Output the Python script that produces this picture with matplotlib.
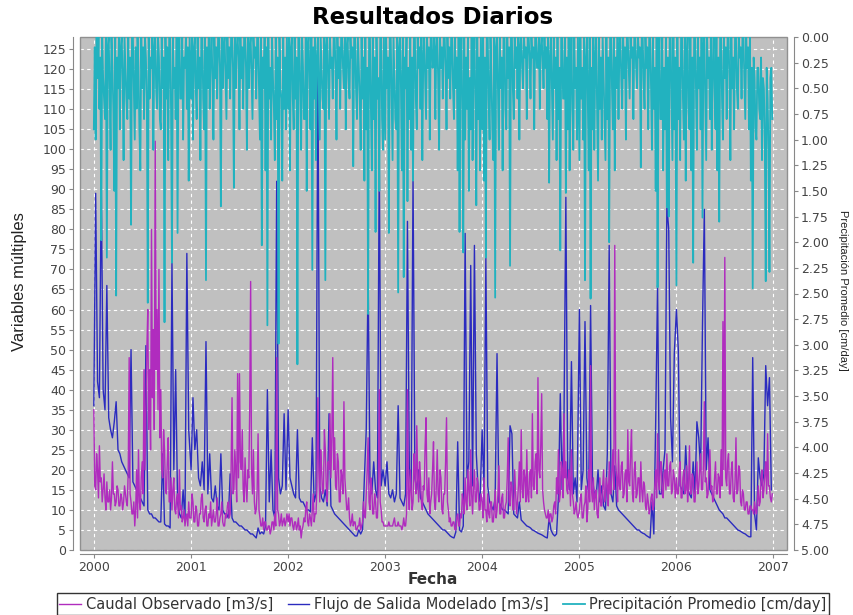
import numpy as np
import pandas as pd
import matplotlib
matplotlib.use("Agg")
import matplotlib.pyplot as plt
import matplotlib.dates as mdates
from matplotlib.ticker import MultipleLocator, FormatStrFormatter
from matplotlib.patches import Rectangle

years = [2000, 2001, 2002, 2003, 2004, 2005, 2006]

# Caudal Observado [m3/s], two readings per week (104 per year)
obs_2000 = [35, 16, 15, 24, 20, 13, 26, 17, 18, 12, 15, 19, 13, 10, 17, 12, 12, 15, 10, 13, 22, 14, 14, 11, 12, 16,
            15, 11, 11, 14, 13, 10, 12, 16, 14, 12, 11, 20, 48, 14, 12, 9, 9, 12, 6, 10, 20, 8, 25, 12, 10, 18,
            22, 14, 45, 20, 35, 50, 60, 30, 45, 25, 80, 38, 55, 30, 102, 45, 60, 35, 70, 28, 40, 20, 18, 30, 25, 15,
            14, 22, 28, 12, 12, 18, 10, 15, 18, 10, 9, 13, 14, 8, 20, 10, 11, 7, 8, 10, 6, 8, 9, 6, 12, 8]
obs_2001 = [8, 14, 12, 7, 7, 11, 10, 6, 6, 9, 9, 13, 14, 8, 7, 10, 11, 6, 6, 9, 8, 12, 6, 8, 10, 7,
            7, 9, 13, 6, 6, 8, 9, 12, 7, 6, 6, 9, 8, 11, 12, 8, 9, 20, 38, 14, 15, 25, 20, 12, 44, 18,
            44, 22, 20, 30, 15, 12, 23, 16, 12, 20, 18, 35, 67, 20, 14, 25, 12, 9, 10, 15, 29, 10, 8, 6, 6, 8,
            5, 7, 7, 5, 5, 6, 6, 4, 5, 7, 7, 5, 9, 6, 48, 10, 9, 6, 7, 9, 6, 7, 8, 6, 7, 9]
obs_2002 = [7, 9, 6, 8, 8, 6, 5, 7, 7, 5, 6, 8, 5, 6, 3, 5, 6, 8, 7, 10, 12, 7, 6, 9, 8, 6,
            10, 14, 7, 9, 9, 16, 38, 20, 12, 25, 20, 14, 15, 30, 25, 16, 12, 22, 20, 34, 18, 28, 48, 20, 28, 16,
            15, 24, 22, 12, 12, 20, 18, 14, 37, 18, 14, 10, 10, 13, 8, 6, 7, 9, 6, 7, 7, 5, 5, 6, 6, 8,
            5, 6, 7, 12, 9, 8, 14, 20, 28, 12, 10, 18, 15, 9, 9, 14, 12, 8, 8, 16, 40, 12, 10, 7, 7, 6]
obs_2003 = [6, 6, 6, 6, 7, 6, 6, 6, 6, 7, 8, 6, 6, 6, 7, 6, 6, 6, 5, 6, 8, 6, 6, 9, 40, 14,
            10, 20, 15, 10, 12, 24, 20, 14, 31, 18, 12, 22, 18, 12, 10, 16, 15, 26, 33, 14, 12, 18, 9, 12, 14, 20,
            27, 12, 10, 16, 25, 14, 12, 20, 18, 10, 9, 14, 14, 22, 33, 12, 10, 7, 8, 6, 6, 7, 7, 5, 5, 8,
            9, 6, 6, 9, 8, 14, 12, 9, 18, 12, 10, 20, 15, 11, 25, 14, 9, 16, 20, 12, 12, 18, 16, 10, 10, 14]
obs_2004 = [12, 8, 18, 10, 10, 7, 14, 9, 8, 12, 12, 7, 7, 10, 15, 8, 10, 14, 21, 9, 9, 13, 14, 8, 8, 11,
            12, 18, 28, 12, 11, 17, 16, 10, 10, 20, 14, 9, 12, 16, 22, 12, 30, 15, 13, 20, 18, 12, 25, 14, 12, 19,
            20, 13, 34, 16, 15, 22, 24, 14, 43, 20, 18, 26, 39, 15, 12, 10, 9, 8, 8, 10, 7, 9, 9, 7, 8, 11,
            12, 9, 18, 14, 25, 12, 14, 22, 20, 13, 34, 18, 22, 15, 14, 20, 18, 11, 25, 14, 12, 9, 10, 12, 9, 8]
obs_2005 = [10, 13, 14, 8, 8, 11, 12, 16, 7, 10, 20, 12, 46, 15, 12, 18, 10, 14, 15, 9, 8, 13, 18, 11, 11, 16,
            20, 12, 13, 18, 16, 11, 22, 14, 14, 20, 25, 15, 76, 22, 18, 12, 25, 16, 15, 21, 22, 13, 14, 19, 20, 12,
            30, 17, 16, 24, 30, 14, 12, 20, 22, 13, 14, 18, 18, 12, 22, 15, 12, 17, 16, 11, 10, 14, 12, 9, 10, 13,
            14, 10, 11, 16, 20, 13, 29, 17, 15, 22, 22, 14, 13, 19, 20, 15, 24, 16, 16, 21, 22, 14, 15, 20, 18, 13]
obs_2006 = [18, 14, 14, 20, 22, 13, 13, 18, 20, 14, 15, 21, 12, 16, 26, 14, 14, 19, 18, 12, 12, 17, 22, 14, 16, 20,
            24, 15, 15, 21, 37, 17, 18, 13, 14, 20, 25, 15, 16, 12, 13, 18, 22, 14, 14, 19, 18, 13, 25, 16, 57, 20,
            73, 18, 16, 22, 24, 14, 14, 20, 22, 13, 12, 17, 28, 14, 15, 21, 20, 12, 11, 15, 14, 10, 10, 12, 12, 9,
            9, 11, 11, 10, 10, 9, 12, 10, 9, 12, 16, 11, 12, 18, 20, 13, 15, 19, 22, 14, 29, 16, 16, 13, 12, 14]

# Flujo de Salida Modelado [m3/s], weekly (52 per year)
mod_2000 = [36, 89, 42, 38, 92, 40, 35, 66, 33, 30, 28, 32, 37,
            25, 24, 22, 21, 20, 19, 18, 50, 17, 16, 15, 14, 13,
            12, 11, 51, 10, 9, 9, 8, 8, 7.5, 7, 7, 24, 6.5,
            6, 6, 5.5, 72, 20, 45, 12, 9, 8, 15, 7, 74, 30]
mod_2001 = [20, 38, 25, 30, 18, 16, 22, 15, 52, 14, 24, 13, 12,
            16, 11, 10, 24, 10, 9, 9, 8, 19, 8, 7, 7, 6.5,
            6, 6, 5.5, 5, 5, 4.5, 4, 4, 3.5, 3, 5.5, 4, 4.5,
            4, 6, 40, 12, 25, 10, 8, 92, 18, 14, 16, 34, 15]
mod_2002 = [35, 18, 16, 14, 13, 30, 13, 12, 12, 11, 10, 10, 9.5,
            28, 12, 14, 122, 16, 13, 12, 15, 11, 34, 11, 10, 9,
            8.5, 8, 7.5, 7, 6.5, 6, 5.5, 5, 4.5, 4, 3.5, 3.5, 5,
            4, 5, 18, 30, 69, 17, 14, 22, 15, 13, 99, 16, 20]
mod_2003 = [16, 22, 14, 13, 15, 12, 14, 36, 13, 12, 11, 14, 82,
            20, 15, 93, 18, 15, 20, 13, 12, 11, 10, 9, 8.5, 8,
            7.5, 7, 6.5, 6, 5.5, 5, 5, 4.5, 4, 3.5, 3.2, 3, 4.5,
            27, 5, 4.5, 6, 79, 18, 22, 71, 16, 76, 24, 15, 12]
mod_2004 = [30, 14, 73, 16, 12, 11, 10, 13, 49, 12, 11, 10, 10,
            9.5, 9, 31, 29, 9, 8.5, 8, 12, 7.5, 7, 6.5, 6, 5.8,
            5.5, 5, 4.8, 4.5, 4.2, 4, 3.8, 3.5, 3.2, 3, 8, 5, 4,
            3.5, 4, 13, 39, 15, 33, 88, 18, 15, 47, 14, 18, 12]
mod_2005 = [60, 15, 20, 57, 18, 14, 61, 18, 14, 13, 20, 12, 16,
            11, 10, 24, 76, 14, 12, 21, 11, 10, 9.5, 9, 8.5, 8,
            7.5, 7, 6.5, 6, 5.5, 5, 5, 4.5, 4.2, 4, 3.6, 3.3, 3,
            12, 4, 32, 66, 14, 14, 20, 25, 86, 80, 33, 22, 49]
mod_2006 = [60, 50, 16, 15, 14, 26, 15, 14, 13, 22, 14, 32, 28,
            20, 56, 85, 20, 28, 15, 14, 13, 12, 11, 10, 9.5, 9,
            8, 8, 7.5, 7, 6.5, 6, 5.5, 5, 4.8, 4.5, 4.2, 4, 3.6,
            3.3, 3.3, 48, 9, 5, 23, 18, 16, 19, 46, 36, 43, 15]

# Precipitación Promedio [cm/day], two readings per week (104 per year)
pre_2000 = [0.9, 0.1, 1.0, 0.0, 0.4, 0.0, 0.7, 0.2, 1.98, 0.0, 0.4, 0.6, 0.8, 0.0, 2.15, 0.1, 0.0, 0.5, 1.1, 0.0,
            0.3, 0.7, 1.5, 0.0, 2.52, 0.2, 0.5, 0.0, 0.9, 0.1, 0.0, 0.4, 1.2, 0.0, 0.3, 0.6, 0.8, 0.0, 0.6, 0.2,
            1.83, 0.0, 0.0, 0.5, 1.0, 0.1, 0.7, 0.0, 0.3, 0.9, 1.3, 0.0, 0.5, 0.1, 0.8, 0.0, 0.2, 0.6, 2.59, 0.0,
            0.6, 0.2, 0.3, 0.0, 1.1, 0.1, 0.0, 0.5, 0.7, 0.0, 0.2, 0.8, 0.9, 0.0, 0.5, 0.2, 2.78, 0.0, 0.6, 0.1,
            1.2, 0.0, 0.0, 0.7, 2.2, 0.0, 0.5, 0.3, 0.8, 0.0, 1.91, 0.1, 0.0, 0.6, 0.6, 0.0, 1.0, 0.2, 0.3, 0.0,
            0.7, 0.1, 1.4, 0.0]
pre_2001 = [0.6, 0.0, 1.0, 0.1, 0.0, 0.5, 0.8, 0.0, 0.5, 0.2, 1.2, 0.0, 0.0, 0.6, 0.9, 0.0, 2.37, 0.1, 0.5, 0.0,
            0.7, 0.2, 0.0, 0.4, 1.0, 0.0, 0.4, 0.1, 0.6, 0.0, 0.0, 0.3, 1.65, 0.0, 0.5, 0.1, 0.0, 0.4, 0.8, 0.0,
            0.4, 0.1, 0.6, 0.0, 0.0, 0.3, 1.47, 0.0, 0.5, 0.1, 0.0, 0.2, 0.9, 0.0, 0.4, 0.1, 0.7, 0.0, 0.0, 0.3,
            1.1, 0.0, 0.5, 0.1, 0.0, 0.4, 0.8, 0.0, 0.2, 0.1, 0.6, 0.0, 0.0, 0.5, 1.0, 0.0, 2.03, 0.2, 0.5, 0.0,
            1.3, 0.1, 2.81, 0.0, 0.6, 0.3, 1.0, 0.0, 0.4, 0.7, 1.2, 0.0, 0.8, 0.2, 2.99, 0.0, 0.5, 0.6, 1.4, 0.0,
            0.7, 0.2, 0.9, 0.0]
pre_2002 = [0.7, 0.0, 1.3, 0.1, 0.0, 0.6, 0.9, 0.0, 0.6, 0.2, 3.19, 0.0, 0.0, 0.5, 1.1, 0.0, 0.3, 0.8, 0.8, 0.0,
            1.5, 0.1, 0.0, 0.4, 0.9, 0.0, 2.27, 0.1, 0.6, 0.0, 1.2, 0.2, 0.0, 0.5, 1.0, 0.0, 0.3, 0.6, 0.7, 0.0,
            2.37, 0.1, 0.0, 0.4, 0.8, 0.0, 0.3, 0.2, 0.6, 0.0, 0.0, 0.3, 1.0, 0.0, 0.4, 0.1, 0.7, 0.0, 0.0, 0.3,
            0.5, 0.0, 0.9, 0.1, 0.0, 0.4, 0.6, 0.0, 0.2, 0.1, 1.26, 0.0, 0.0, 0.5, 0.8, 0.0, 0.3, 0.6, 1.1, 0.0,
            0.6, 0.2, 1.4, 0.0, 0.9, 0.3, 2.7, 0.0, 0.0, 0.7, 1.3, 0.0, 0.8, 0.2, 1.9, 0.0, 0.6, 0.4, 1.5, 0.0,
            0.0, 0.8, 1.1, 0.0]
pre_2003 = [1.0, 0.0, 0.5, 0.2, 1.91, 0.0, 0.0, 0.6, 1.2, 0.0, 0.4, 0.8, 0.9, 0.0, 2.49, 0.1, 0.0, 0.5, 1.3, 0.0,
            2.34, 0.2, 0.5, 0.0, 1.6, 0.3, 0.8, 0.0, 1.1, 0.2, 1.4, 0.0, 0.0, 0.6, 0.9, 0.0, 0.3, 0.1, 0.7, 0.0,
            1.2, 0.2, 0.0, 0.4, 0.8, 0.0, 0.3, 0.1, 1.0, 0.0, 0.0, 0.3, 0.2, 0.0, 0.8, 0.1, 0.0, 0.4, 1.1, 0.0,
            0.3, 0.1, 0.6, 0.0, 0.0, 0.3, 0.9, 0.0, 0.4, 0.1, 0.6, 0.0, 0.0, 0.5, 0.8, 0.0, 0.5, 0.2, 1.3, 0.0,
            1.9, 0.3, 0.0, 0.7, 2.1, 0.0, 1.0, 0.2, 0.7, 0.0, 1.5, 0.4, 0.9, 0.0, 1.2, 0.3, 0.0, 0.6, 1.64, 0.0,
            0.8, 0.2, 1.3, 0.0]
pre_2004 = [0.9, 0.0, 1.4, 0.2, 2.15, 0.0, 0.0, 0.6, 1.0, 0.0, 0.4, 0.9, 1.2, 0.0, 2.54, 0.1, 0.0, 0.5, 1.1, 0.0,
            0.5, 0.2, 1.3, 0.0, 0.0, 0.7, 0.9, 0.0, 0.4, 0.1, 2.23, 0.0, 0.0, 0.5, 0.8, 0.0, 0.3, 0.1, 0.6, 0.0,
            1.0, 0.1, 0.0, 0.3, 0.5, 0.0, 0.2, 0.1, 0.8, 0.0, 0.0, 0.2, 0.6, 0.0, 0.2, 0.1, 0.9, 0.0, 0.0, 0.3,
            0.3, 0.0, 0.7, 0.1, 0.0, 0.2, 0.5, 0.0, 0.3, 0.1, 0.8, 0.0, 1.42, 0.2, 0.0, 0.5, 1.0, 0.0, 0.5, 0.2,
            1.2, 0.0, 0.8, 0.3, 2.08, 0.0, 0.0, 0.6, 0.6, 0.0, 1.52, 0.2, 0.9, 0.0, 1.3, 0.4, 0.0, 0.7, 1.1, 0.0,
            0.5, 0.3, 1.0, 0.0]
pre_2005 = [1.2, 0.0, 0.6, 0.3, 1.0, 0.0, 2.37, 0.2, 0.0, 0.6, 1.3, 0.0, 2.55, 0.3, 0.9, 0.0, 1.1, 0.2, 0.0, 0.7,
            1.4, 0.0, 0.7, 0.2, 1.0, 0.0, 0.4, 0.8, 1.2, 0.0, 0.8, 0.2, 2.0, 0.0, 0.0, 0.5, 0.9, 0.0, 1.3, 0.2,
            0.5, 0.0, 0.8, 0.1, 0.0, 0.4, 0.7, 0.0, 0.4, 0.1, 1.0, 0.0, 0.0, 0.3, 0.6, 0.0, 0.2, 0.1, 0.8, 0.0,
            0.0, 0.3, 0.5, 0.0, 0.2, 0.1, 1.27, 0.0, 0.0, 0.4, 0.7, 0.0, 0.3, 0.1, 0.9, 0.0, 0.0, 0.5, 1.1, 0.0,
            0.7, 0.3, 1.5, 0.0, 2.44, 0.2, 0.0, 0.8, 0.8, 0.0, 1.3, 0.3, 0.9, 0.0, 1.66, 0.2, 1.75, 0.0, 0.0, 0.6,
            1.2, 0.0, 0.9, 0.2]
pre_2006 = [2.42, 0.0, 0.8, 0.3, 1.2, 0.0, 0.0, 0.6, 1.0, 0.0, 1.4, 0.2, 0.0, 0.7, 0.9, 0.0, 1.3, 0.2, 2.2, 0.0,
            0.0, 0.5, 1.1, 0.0, 0.5, 0.2, 0.9, 0.0, 1.76, 0.1, 0.0, 0.6, 1.2, 0.0, 0.4, 0.2, 0.8, 0.0, 1.1, 0.3,
            0.0, 0.5, 0.9, 0.0, 1.3, 0.2, 1.8, 0.0, 0.0, 0.6, 1.0, 0.0, 0.4, 0.1, 0.8, 0.0, 0.0, 0.4, 1.2, 0.0,
            0.5, 0.2, 0.9, 0.0, 0.0, 0.5, 0.7, 0.0, 0.2, 0.1, 0.6, 0.0, 0.0, 0.4, 0.8, 0.0, 0.3, 0.1, 0.9, 0.0,
            1.4, 0.3, 2.45, 0.2, 0.4, 0.9, 1.0, 0.3, 0.3, 0.7, 0.8, 0.2, 1.2, 0.4, 0.5, 1.0, 2.38, 0.3, 0.6, 1.1,
            2.29, 0.4, 0.3, 0.8]

observado = np.concatenate([obs_2000, obs_2001, obs_2002, obs_2003, obs_2004, obs_2005, obs_2006])
modelado = np.concatenate([mod_2000, mod_2001, mod_2002, mod_2003, mod_2004, mod_2005, mod_2006])
precip = np.concatenate([pre_2000, pre_2001, pre_2002, pre_2003, pre_2004, pre_2005, pre_2006])

fechas_sem = pd.DatetimeIndex(np.concatenate(
    [pd.date_range(f"{y}-01-01", periods=52, freq="7D").values for y in years]))
fechas_med = pd.DatetimeIndex(np.concatenate(
    [pd.date_range(f"{y}-01-01", periods=104, freq="84h").values for y in years]))

MAGENTA = "#b02cbe"
AZUL = "#2b2bbf"
CIAN = "#22b2bf"
GRIS_TXT = "#444444"
GRIS_EJE = "#888888"

fig = plt.figure(figsize=(8.54, 6.15), dpi=100)
W, H = 854, 615
ax = fig.add_axes([80 / W, 1 - 550 / H, 707 / W, 513 / H])
ax.set_facecolor("#c0c0c0")

l_mod, = ax.plot(fechas_sem, modelado, color=AZUL, lw=1.0, zorder=2)
l_obs, = ax.plot(fechas_med, observado, color=MAGENTA, lw=1.0, zorder=3)

ax.set_xlim(pd.Timestamp("1999-11-10"), pd.Timestamp("2007-02-21"))
ax.set_ylim(0, 128)
ax.yaxis.set_major_locator(MultipleLocator(5))
ax.xaxis.set_major_locator(mdates.YearLocator())
ax.xaxis.set_major_formatter(mdates.DateFormatter("%Y"))
ax.grid(True, color="white", linestyle=(0, (3, 3)), lw=0.8)
ax.set_axisbelow(True)

for s in ["top", "right"]:
    ax.spines[s].set_visible(False)
ax.spines["left"].set_position(("outward", 5))
ax.spines["bottom"].set_position(("outward", 3))
ax.spines["left"].set_color(GRIS_EJE)
ax.spines["bottom"].set_color(GRIS_EJE)
ax.tick_params(axis="both", colors=GRIS_EJE, labelcolor=GRIS_TXT, labelsize=9, length=3, pad=2)

# marco del área de trazado
ax.add_patch(Rectangle((0, 0), 1, 1, transform=ax.transAxes, fill=False,
                       edgecolor="#909090", lw=1.0, clip_on=False, zorder=6))

ax2 = ax.twinx()
l_pre, = ax2.plot(fechas_med, precip, color=CIAN, lw=1.3)
ax2.set_ylim(5.0, 0.0)
ax2.yaxis.set_major_locator(MultipleLocator(0.25))
ax2.yaxis.set_major_formatter(FormatStrFormatter("%.2f"))
for s in ["top", "left", "bottom"]:
    ax2.spines[s].set_visible(False)
ax2.spines["right"].set_position(("outward", 5))
ax2.spines["right"].set_color(GRIS_EJE)
ax2.tick_params(axis="y", colors=GRIS_EJE, labelcolor=GRIS_TXT, labelsize=9, length=3, pad=2)

fig.text(433 / W, 1 - 18 / H, "Resultados Diarios", ha="center", va="center",
         fontsize=16.5, fontweight="bold")
fig.text(433 / W, 1 - 580 / H, "Fecha", ha="center", va="center",
         fontsize=11, fontweight="bold", color="#333333")
fig.text(20 / W, 1 - 282 / H, "Variables múltiples", rotation=90, ha="center",
         va="center", fontsize=12, family="Liberation Sans", color="#222222")
fig.text(843 / W, 1 - 290 / H, "Precipitación Promedio [cm/day]", rotation=270,
         ha="center", va="center", fontsize=8, family="Liberation Sans", color="#222222")

leg = fig.legend([l_obs, l_mod, l_pre],
                 ["Caudal Observado [m3/s]", "Flujo de Salida Modelado [m3/s]",
                  "Precipitación Promedio [cm/day]"],
                 loc="center", bbox_to_anchor=(443 / W, 1 - 604 / H), ncol=3,
                 fontsize=10.5, handlelength=1.5, handletextpad=0.3,
                 columnspacing=1.0, borderpad=0.2, fancybox=False,
                 frameon=True, edgecolor="black")
leg.get_frame().set_linewidth(1.0)
for t in leg.get_texts():
    t.set_color("#333333")

fig.savefig("out.png", dpi=100)
